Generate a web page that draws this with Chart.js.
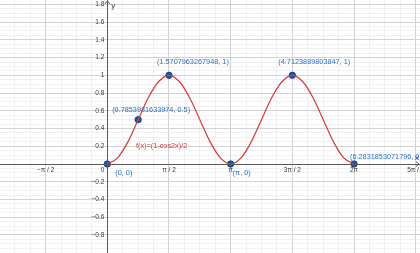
<!DOCTYPE html>
<html>
<head>
<meta charset="utf-8">
<script src="https://cdn.jsdelivr.net/npm/chart.js@4"></script>
<style>
  html, body { margin: 0; padding: 0; background: #fff; }
  #wrap { width: 420px; height: 253px; position: relative; }
</style>
</head>
<body>
<div id="wrap"><canvas id="graph"></canvas></div>
<script>
"use strict";

// View window
const xRange = [-2.733, 7.963];
const yRange = [-1.003, 1.849];

// Grid / tick values
const xMajorTicks = [-1.5708, 0, 1.5708, 3.1416, 4.7124, 6.2832];
const xTickLabels = ['\u2212\u03c0 / 2', '', '\u03c0 / 2', '\u03c0', '3\u03c0 / 2', '2\u03c0'];
const xMajorAll = [-1.5708, 0, 1.5708, 3.1416, 4.7124, 6.2832, 7.854];
const xMinorTicks = [-2.3562, -1.9635, -1.1781, -0.7854, -0.3927, 0.3927, 0.7854, 1.1781,
  1.9635, 2.3562, 2.7489, 3.5343, 3.9270, 4.3197, 5.1051, 5.4978, 5.8905, 6.6759, 7.0686, 7.4613];
const yMajorTicks = [-0.8, -0.6, -0.4, -0.2, 0, 0.2, 0.4, 0.6, 0.8, 1, 1.2, 1.4, 1.6, 1.8];
const yTickLabels = ['\u22120.8', '\u22120.6', '\u22120.4', '\u22120.2', '', '0.2', '0.4', '0.6', '0.8', '1', '1.2', '1.4', '1.6', '1.8'];
const yMinorTicks = [-0.95, -0.9, -0.85, -0.75, -0.7, -0.65, -0.55, -0.5, -0.45, -0.35, -0.3, -0.25,
  -0.15, -0.1, -0.05, 0.05, 0.1, 0.15, 0.25, 0.3, 0.35, 0.45, 0.5, 0.55, 0.65, 0.7, 0.75,
  0.85, 0.9, 0.95, 1.05, 1.1, 1.15, 1.25, 1.3, 1.35, 1.45, 1.5, 1.55, 1.65, 1.7, 1.75, 1.85];

// f(x) = (1 - cos2x)/2
const curveX = [0, 0.262, 0.524, 0.785, 1.047, 1.309, 1.571, 1.833, 2.094, 2.356, 2.618, 2.880,
  3.142, 3.403, 3.665, 3.927, 4.189, 4.451, 4.712, 4.974, 5.236, 5.498, 5.760, 6.021, 6.283];
const curveY = [0, 0.07, 0.25, 0.5, 0.75, 0.93, 1, 0.93, 0.75, 0.5, 0.25, 0.07,
  0, 0.07, 0.25, 0.5, 0.75, 0.93, 1, 0.93, 0.75, 0.5, 0.25, 0.07, 0];

// Marked points
const pointX = [0, 0.7854, 1.5708, 3.1416, 4.7124, 6.2832];
const pointY = [0, 0.5, 1, 0, 1, 0];
const pointLabels = ['(0, 0)', '(0.7853981633974, 0.5)', '(1.5707963267948, 1)',
  '(\u03c0, 0)', '(4.7123889803847, 1)', '(6.2831853071796, 0)'];

const funcLabel = 'f(x)=(1-cos2x)/2';
const funcLabelAt = [0.73, 0.2];

const FONT = '"Liberation Sans", Arial, sans-serif';
const BLUE = '#2a6fcc';
const DOT = '#1a56b0';
const RED = '#d43a3a';

// pixel offsets of each point label from its point (dx to text left, dy to text middle)
const labelOffsets = [[8, 9], [-26, -10], [-12, -13], [2, 9], [-14, -13], [-4, -7]];

function setTicks(values) {
    return (scale) => { scale.ticks = values.map(v => ({ value: v })); };
}

function gridScale(axis, range, values, color, z, border) {
    return {
        type: 'linear',
        axis: axis,
        min: range[0],
        max: range[1],
        position: axis === 'x' ? { y: 0 } : { x: 0 },
        afterBuildTicks: setTicks(values),
        ticks: { display: false },
        grid: { color: color, lineWidth: 1, drawTicks: false, z: z },
        border: border ? { display: true, color: '#5a5a5a', width: 1, z: 1 } : { display: false }
    };
}

const labelsPlugin = {
    id: 'geoLabels',
    afterDatasetsDraw(chart) {
        const ctx = chart.ctx;
        const xs = chart.scales.x;
        const ys = chart.scales.y;
        const ox = xs.getPixelForValue(0);
        const oy = ys.getPixelForValue(0);
        ctx.save();

        // axis tick labels
        ctx.fillStyle = '#3a3a3a';
        ctx.font = '6.5px ' + FONT;
        ctx.textAlign = 'center';
        ctx.textBaseline = 'top';
        xMajorTicks.forEach((v, i) => {
            if (xTickLabels[i]) ctx.fillText(xTickLabels[i], xs.getPixelForValue(v), oy + 3);
        });
        ctx.fillText('5\u03c0 / 2', xs.getPixelForValue(xMajorAll[6]), oy + 3);
        ctx.textAlign = 'right';
        ctx.textBaseline = 'middle';
        yMajorTicks.forEach((v, i) => {
            if (yTickLabels[i]) ctx.fillText(yTickLabels[i], ox - 3, ys.getPixelForValue(v));
        });
        ctx.textBaseline = 'top';
        ctx.fillText('0', ox - 3, oy + 3);

        // axis arrows and names
        ctx.strokeStyle = '#5a5a5a';
        ctx.lineWidth = 1;
        ctx.beginPath();
        ctx.moveTo(ox - 2.5, 4); ctx.lineTo(ox, 1); ctx.lineTo(ox + 2.5, 4);
        const rx = chart.width - 1;
        ctx.moveTo(rx - 3, oy - 2.5); ctx.lineTo(rx, oy); ctx.lineTo(rx - 3, oy + 2.5);
        ctx.stroke();
        ctx.font = '8px ' + FONT;
        ctx.textAlign = 'left';
        ctx.textBaseline = 'middle';
        ctx.fillStyle = '#333';
        ctx.fillText('y', ox + 4, 6);
        ctx.fillText('x', rx - 4, oy - 6);

        // point labels
        ctx.font = '7.3px ' + FONT;
        ctx.fillStyle = BLUE;
        pointLabels.forEach((t, i) => {
            const px = xs.getPixelForValue(pointX[i]);
            const py = ys.getPixelForValue(pointY[i]);
            ctx.fillText(t, px + labelOffsets[i][0], py + labelOffsets[i][1]);
        });

        // function label
        ctx.fillStyle = RED;
        ctx.fillText(funcLabel, xs.getPixelForValue(funcLabelAt[0]), ys.getPixelForValue(funcLabelAt[1]));
        ctx.restore();
    }
};

new Chart(document.getElementById('graph'), {
    type: 'scatter',
    data: {
        datasets: [
            {
                label: 'f',
                data: curveX.map((x, i) => ({ x: x, y: curveY[i] })),
                showLine: true,
                borderColor: RED,
                borderWidth: 1.2,
                pointRadius: 0,
                cubicInterpolationMode: 'monotone',
                xAxisID: 'x',
                yAxisID: 'y'
            },
            {
                label: 'points',
                data: pointX.map((x, i) => ({ x: x, y: pointY[i] })),
                backgroundColor: DOT,
                borderColor: '#0c3a7a',
                borderWidth: 0.8,
                pointRadius: 3.2,
                xAxisID: 'x',
                yAxisID: 'y'
            }
        ]
    },
    options: {
        responsive: true,
        maintainAspectRatio: false,
        animation: false,
        layout: { padding: 0, autoPadding: false },
        plugins: {
            legend: { display: false },
            tooltip: { enabled: false }
        },
        scales: {
            xMinor: gridScale('x', xRange, xMinorTicks, '#f1f1f1', -3, false),
            yMinor: gridScale('y', yRange, yMinorTicks, '#f1f1f1', -3, false),
            x: gridScale('x', xRange, xMajorAll, '#d2d2d2', -2, true),
            y: gridScale('y', yRange, yMajorTicks, '#d2d2d2', -2, true)
        }
    },
    plugins: [labelsPlugin]
});
</script>
</body>
</html>
